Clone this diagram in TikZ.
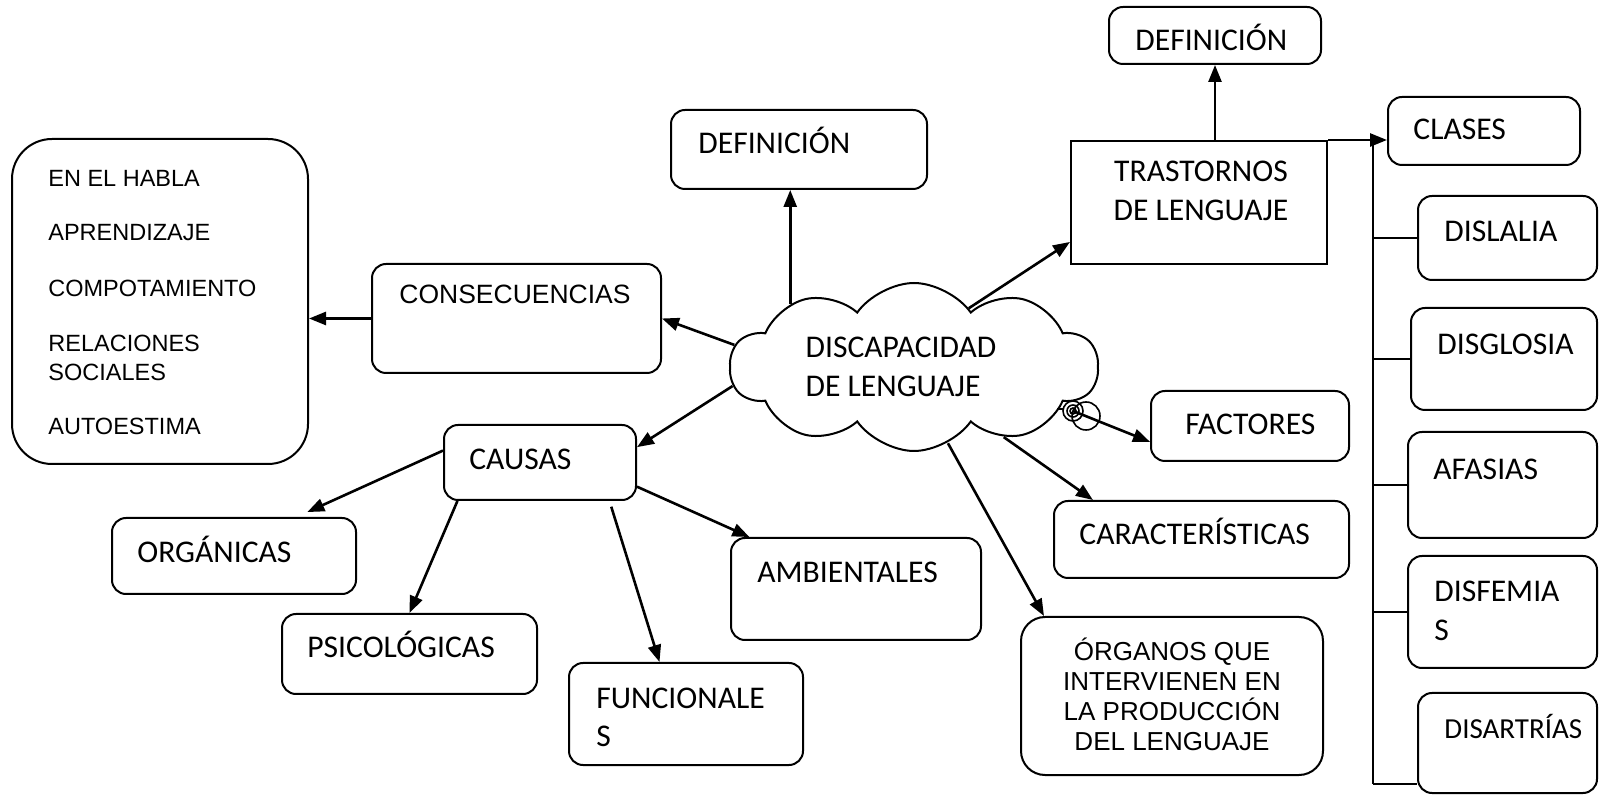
\documentclass[tikz,border=0pt]{standalone}
\usepackage{fontspec}
\setmainfont{Carlito}
\newfontfamily\arialfont{Liberation Sans}
\usetikzlibrary{arrows.meta, shapes.symbols, fit}

\begin{document}
\begin{tikzpicture}[x=0.5pt, y=-0.5pt,
  box/.style={draw, line width=1pt, rounded corners=7pt, inner sep=0pt},
  sqbox/.style={draw, line width=1pt, inner sep=0pt},
  txt/.style={inner sep=0pt, font=\fontsize{15.8}{19.5}\selectfont},
  smtxt/.style={inner sep=0pt, font=\fontsize{14.5}{19.5}\selectfont},
  atxt/.style={inner sep=0pt, font=\arialfont\fontsize{13.25}{15}\selectfont},
  ltxt/.style={inner sep=0pt, font=\arialfont\fontsize{11.75}{14.5}\selectfont},
  arr/.style={line width=1.3pt, -{Triangle[length=8.5pt, width=6.5pt]}},
  lnk/.style={line width=1.1pt}]
\useasboundingbox (0,0) rectangle (1600,795);

% left list
\node[box, rounded corners=20pt, fit={(12,139) (308,464)}] (bigbox) {};
\node[ltxt, anchor=base west] (habla) at (48,187) {EN EL HABLA};
\node[ltxt, anchor=base west] (aprend) at (48,241) {APRENDIZAJE};
\node[ltxt, anchor=base west] (compor) at (48,297) {COMPOTAMIENTO};
\node[ltxt, anchor=base west, align=left] (relac) at (48,381) {RELACIONES\\SOCIALES};
\node[ltxt, anchor=base west] (autoes) at (48,435) {AUTOESTIMA};

\node[box, fit={(372,264) (661,373)}] (conseq) {};
\node[atxt, anchor=base west] (conseqt) at (399,304) {CONSECUENCIAS};

\node[box, fit={(671,110) (927,189)}] (defA) {};
\node[txt, anchor=base west] (defAt) at (698,154) {DEFINICIÓN};

% centre
\node[cloud, draw, line width=1pt, cloud puffs=10, cloud puff arc=110, cloud ignores aspect, minimum width=184pt, minimum height=84pt, inner sep=0pt, txt, align=left] (cloud) at (914,367) {DISCAPACIDAD\hspace*{13pt}\\DE LENGUAJE};
\coordinate (tail) at (1073,411);
\draw[line width=0.8pt] (1057,409) -- (1064,409);
\draw[line width=0.8pt] (tail) circle[radius=1.5pt] (tail) circle[radius=3pt] (tail) circle[radius=5pt] (1086,416) circle[radius=7pt];

% trastornos
\node[sqbox, fit={(1071,141) (1327,264)}] (trast) {};
\node[txt, anchor=base, align=center] (trastt) at (1201,221) {TRASTORNOS\\DE LENGUAJE};
\node[box, fit={(1109,7) (1321,64)}] (defB) {};
\node[txt, anchor=base west] (defBt) at (1135,51) {DEFINICIÓN};
\node[box, fit={(1388,97) (1580,165)}] (clases) {};
\node[txt, anchor=base west] (clasest) at (1413,140) {CLASES};

\node[box, fit={(1418,196) (1597,280)}] (dislalia) {};
\node[txt, anchor=base west] (dislaliat) at (1444,242) {DISLALIA};
\node[box, fit={(1411,308) (1597,410)}] (disglosia) {};
\node[txt, anchor=base west] (disglosiat) at (1437,355) {DISGLOSIA};
\node[box, fit={(1408,432) (1597,538)}] (afasias) {};
\node[txt, anchor=base west] (afasiast) at (1433,480) {AFASIAS};
\node[box, fit={(1408,556) (1597,668)}] (disfemias) {};
\node[txt, anchor=base west, align=left] (disfemiast) at (1434,641) {DISFEMIA\\S};
\node[box, fit={(1418,693) (1597,793)}] (disartrias) {};
\node[smtxt, anchor=base west] (disartriast) at (1444,738) {DISARTRÍAS};

% right of cloud
\node[box, fit={(1151,391) (1349,461)}] (factores) {};
\node[txt, anchor=base west] (factorest) at (1185,435) {FACTORES};
\node[box, fit={(1054,501) (1349,578)}] (caract) {};
\node[txt, anchor=base west] (caractt) at (1079,545) {CARACTERÍSTICAS};
\node[box, rounded corners=12pt, fit={(1021,617) (1323,775)}] (organos) {};
\node[atxt, font=\arialfont\fontsize{13}{15}\selectfont, anchor=base, align=center] (organost) at (1172,750) {ÓRGANOS QUE\\INTERVIENEN EN\\LA PRODUCCIÓN\\DEL LENGUAJE};

% causas
\node[box, fit={(444,425) (636,500)}] (causas) {};
\node[txt, anchor=base west] (causast) at (469,470) {CAUSAS};
\node[box, fit={(112,518) (356,594)}] (organicas) {};
\node[txt, anchor=base west] (organicast) at (137,563) {ORGÁNICAS};
\node[box, fit={(282,614) (537,694)}] (psico) {};
\node[txt, anchor=base west] (psicot) at (307,658) {PSICOLÓGICAS};
\node[box, fit={(569,663) (803,765)}] (funcion) {};
\node[txt, anchor=base west, align=left] (funciont) at (596,747) {FUNCIONALE\\S};
\node[box, fit={(731,538) (981,640)}] (ambient) {};
\node[txt, anchor=base west] (ambientt) at (757,583) {AMBIENTALES};

% connectors
\draw[arr] (conseq.west) -- (bigbox.east |- conseq.west);
\draw[arr] (cloud.173) -- (conseq.east);
\draw[arr] (cloud.153) -- (cloud.153 |- defA.south);
\draw[arr] (cloud.186) -- (causas.9);
\draw[arr] (cloud.47) -- (trast.197);
\draw[arr] (defB.south |- trast.north) -- (defB.south);
\draw[arr] (trast.north east) -- (clases.west |- trast.north east);
\draw[arr] (tail) -- (factores.189);
\draw[arr] (cloud.-38) -- (caract.160);
\draw[arr] (cloud.-66) -- (organos.148);
\draw[arr, shorten >=6pt] (causas.173) -- (organicas.32);
\draw[arr] (causas.205) -- (psico.north);
\draw[arr, shorten <=3pt] (causas.331) -- (funcion.117);
\draw[arr] (causas.346) -- (ambient.154);

% clases trunk
\coordinate (trunk) at (1373,141);
\coordinate (trunkend) at (1373,784);
\draw[lnk] (trunk) -- (trunkend);
\draw[lnk] (trunk |- dislalia.west) -- (dislalia.west);
\draw[lnk] (trunk |- disglosia.west) -- (disglosia.west);
\draw[lnk] (trunk |- afasias.west) -- (afasias.west);
\draw[lnk] (trunk |- disfemias.west) -- (disfemias.west);
\draw[lnk] (trunkend) -- (trunkend -| disartrias.west);
\end{tikzpicture}
\end{document}
